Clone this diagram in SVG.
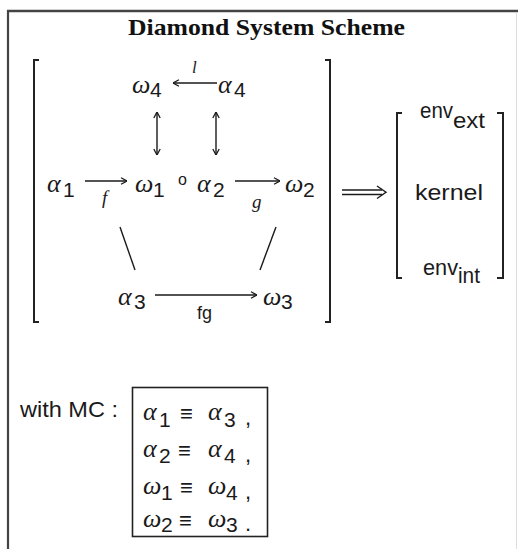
<svg xmlns="http://www.w3.org/2000/svg" width="518" height="549" viewBox="0 0 518 549">
<style>
.g{font-family:"Liberation Serif","Times New Roman",serif;font-style:italic;font-size:26px;fill:#1a1a1a}
.d{font-family:"Liberation Sans",Arial,sans-serif;font-size:21px;fill:#1a1a1a}
.s{font-family:"Liberation Sans",Arial,"DejaVu Sans",sans-serif;font-size:22px;fill:#1a1a1a}
.lab{font-family:"Liberation Serif","Times New Roman",serif;font-style:italic;font-size:19px;fill:#1a1a1a}
.title{font-family:"Liberation Serif","Times New Roman",serif;font-weight:bold;font-size:23px;fill:#111}
.ln{stroke:#1a1a1a;stroke-width:1.4;fill:none}
.br{stroke:#222;stroke-width:2;fill:none}
</style>
<defs>
<marker id="ah" viewBox="0 0 10 10" refX="9.5" refY="5" markerWidth="8" markerHeight="8" markerUnits="userSpaceOnUse" orient="auto-start-reverse">
<path d="M2,1 L9.5,5 L2,9" fill="none" stroke="#1a1a1a" stroke-width="1.6"/>
</marker>
</defs>
<rect width="518" height="549" fill="#fff"/>
<g id="frame">
<line x1="7" y1="11" x2="518" y2="11" stroke="#444" stroke-width="2.5"/>
<line x1="8" y1="10" x2="8" y2="549" stroke="#444" stroke-width="2.2"/>
<line x1="516.5" y1="12" x2="516.5" y2="549" stroke="#ddd" stroke-width="1"/>
</g>
<text id="title" class="title" x="266.5" y="35" text-anchor="middle" textLength="277" lengthAdjust="spacingAndGlyphs">Diamond System Scheme</text>
<g id="brackets">
<path class="br" d="M39,60 H34 V322 H39"/>
<path class="br" d="M325,60 H330 V322 H325"/>
<path class="br" d="M402,113 H397 V278 H402"/>
<path class="br" d="M497,113 H503 V278 H497"/>
</g>
<g id="omega4"><text class="g" x="132" y="93">ω</text><text class="d" x="150" y="97">4</text></g>
<g id="alpha4"><text class="g" x="218" y="93">α</text><text class="d" x="234" y="97">4</text></g>
<g id="alpha1"><text class="g" x="47" y="192">α</text><text class="d" x="63" y="197">1</text></g>
<g id="omega1"><text class="g" x="135" y="192">ω</text><text class="d" x="153" y="197">1</text></g>
<g id="compose"><text class="d" x="178" y="185" style="font-size:16px">o</text></g>
<g id="alpha2"><text class="g" x="197" y="192">α</text><text class="d" x="213" y="197">2</text></g>
<g id="omega2"><text class="g" x="285" y="192">ω</text><text class="d" x="303" y="197">2</text></g>
<g id="alpha3"><text class="g" x="118" y="305">α</text><text class="d" x="134" y="309">3</text></g>
<g id="omega3"><text class="g" x="263" y="305">ω</text><text class="d" x="281" y="309">3</text></g>
<g id="connectors">
<line class="ln" x1="217" y1="83" x2="173" y2="83" marker-end="url(#ah)"/>
<line class="ln" x1="85" y1="181" x2="127" y2="181" marker-end="url(#ah)"/>
<line class="ln" x1="235" y1="181" x2="280" y2="181" marker-end="url(#ah)"/>
<line class="ln" x1="155" y1="295" x2="257" y2="295" marker-end="url(#ah)"/>
<line class="ln" x1="157" y1="112" x2="157" y2="155" marker-start="url(#ah)" marker-end="url(#ah)"/>
<line class="ln" x1="216" y1="112" x2="216" y2="155" marker-start="url(#ah)" marker-end="url(#ah)"/>
<line class="ln" x1="120" y1="227" x2="135" y2="270"/>
<line class="ln" x1="276" y1="227" x2="260" y2="270"/>
<g id="implies">
<line class="ln" x1="342" y1="190" x2="382" y2="190"/>
<line class="ln" x1="342" y1="194.5" x2="382" y2="194.5"/>
<path class="ln" d="M377,186 L386,192.2 L377,198.5"/>
</g>
</g>
<g id="labels">
<text class="lab" x="192" y="73" style="font-size:17px">l</text>
<text class="lab" x="102" y="204">f</text>
<text class="lab" x="252" y="208">g</text>
<text class="d" x="197" y="319" style="font-size:18px">fg</text>
</g>
<g id="env_ext"><text class="s" x="420" y="118" textLength="33" lengthAdjust="spacingAndGlyphs">env</text><text class="s" x="453" y="128" textLength="32" lengthAdjust="spacingAndGlyphs">ext</text></g>
<g id="kernel"><text class="s" x="415" y="200" textLength="68" lengthAdjust="spacingAndGlyphs">kernel</text></g>
<g id="env_int"><text class="s" x="423" y="275" textLength="35" lengthAdjust="spacingAndGlyphs">env</text><text class="s" x="458" y="283" textLength="22" lengthAdjust="spacingAndGlyphs">int</text></g>
<g id="mc_label"><text class="s" x="20" y="417" textLength="98" lengthAdjust="spacingAndGlyphs">with MC :</text></g>
<g id="mc_box">
<rect x="132.5" y="387.5" width="135" height="149" fill="none" stroke="#222" stroke-width="1.6"/>
<text class="g" x="143" y="420">α</text><text class="d" x="159" y="427">1</text><text class="s" x="180" y="421">≡</text><text class="g" x="208" y="420">α</text><text class="d" x="224" y="427">3</text><text class="s" x="245" y="425">,</text>
<text class="g" x="143" y="457">α</text><text class="d" x="159" y="463">2</text><text class="s" x="178" y="458">≡</text><text class="g" x="208" y="457">α</text><text class="d" x="224" y="463">4</text><text class="s" x="245" y="462">,</text>
<text class="g" x="143" y="494">ω</text><text class="d" x="161" y="500">1</text><text class="s" x="180" y="495">≡</text><text class="g" x="208" y="494">ω</text><text class="d" x="226" y="500">4</text><text class="s" x="245" y="499">,</text>
<text class="g" x="143" y="527">ω</text><text class="d" x="161" y="532">2</text><text class="s" x="179" y="528">≡</text><text class="g" x="208" y="527">ω</text><text class="d" x="226" y="532">3</text><text class="s" x="245" y="531">.</text>
</g>
</svg>
